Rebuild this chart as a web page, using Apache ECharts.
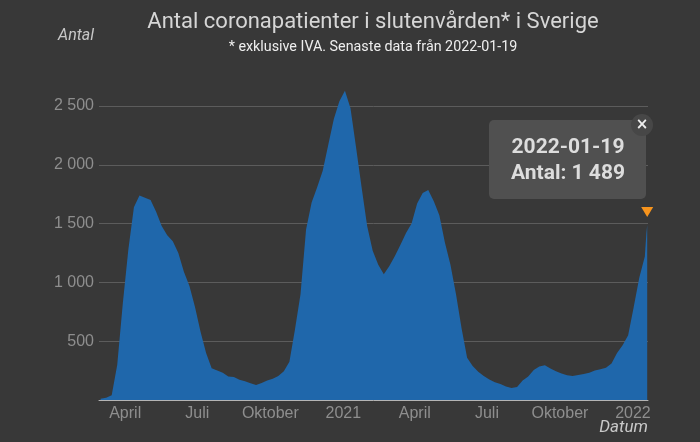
<!DOCTYPE html>
<html>
<head>
<meta charset="utf-8">
<title>Antal coronapatienter i slutenvården</title>
<script src="https://cdn.jsdelivr.net/npm/echarts@6/dist/echarts.min.js"></script>
<style>
  html, body { margin: 0; padding: 0; background: #383838; }
  #chart { width: 700px; height: 442px; }
</style>
</head>
<body>
<div id="chart"></div>
<script>
// weekly readings (every Sunday) starting 2020-03-01
const firstWeek = '2020-03-01';
const weeklyValues = [
  10, 20, 40, 300, 820, 1280, 1640, 1740, 1720, 1700,
  1600, 1480, 1400, 1350, 1250, 1090, 970, 790, 580, 400,
  270, 250, 232, 200, 195, 172, 160, 142, 128, 145,
  165, 180, 205, 245, 325, 600, 900, 1450, 1680, 1810,
  1950, 2170, 2390, 2540, 2630, 2480, 2150, 1810, 1480, 1270,
  1150, 1070, 1140, 1225, 1320, 1420, 1500, 1670, 1760, 1785,
  1690, 1570, 1340, 1150, 900, 610, 360, 290, 240, 205,
  175, 150, 135, 115, 102, 110, 165, 200, 255, 285,
  295, 268, 245, 225, 210, 205, 213, 222, 232, 250,
  262, 275, 310, 400, 465, 550, 790, 1040, 1220
];
// last days
const lastDates = ['2022-01-18', '2022-01-19'];
const lastValues = [1420, 1489];

const xTickDates = ['2020-04-01', '2020-07-01', '2020-10-01', '2021-01-01',
  '2021-04-01', '2021-07-01', '2021-10-01', '2022-01-01'];
const xTickLabels = ['April', 'Juli', 'Oktober', '2021', 'April', 'Juli', 'Oktober', '2022'];
const yTicks = [0, 500, 1000, 1500, 2000, 2500];

const pad = (n) => String(n).padStart(2, '0');
const toTime = (s) => new Date(s + 'T00:00:00').getTime();
const addDays = (s, n) => {
  const d = new Date(s + 'T00:00:00');
  d.setDate(d.getDate() + n);
  return d.getFullYear() + '-' + pad(d.getMonth() + 1) + '-' + pad(d.getDate());
};
const fmtNum = (v) => String(v).replace(/\B(?=(\d{3})+(?!\d))/g, ' ');

const dayList = weeklyValues.map((v, i) => addDays(firstWeek, 7 * i)).concat(lastDates);
const valueList = weeklyValues.concat(lastValues);
const seriesData = dayList.map((d, i) => [toTime(d), valueList[i]]);

const lastDay = dayList[dayList.length - 1];
const lastPoint = seriesData[seriesData.length - 1];
const tickTimes = xTickDates.map(toTime);

const chart = echarts.init(document.getElementById('chart'));

chart.setOption({
  backgroundColor: '#383838',
  animation: false,
  title: {
    text: 'Antal coronapatienter i slutenvården* i Sverige',
    subtext: '* exklusive IVA. Senaste data från 2022-01-19',
    left: 373,
    top: 11,
    padding: 0,
    itemGap: 7,
    textAlign: 'center',
    textStyle: {
      color: '#d6d6d6',
      fontFamily: 'Roboto',
      fontSize: 22,
      fontWeight: 'normal'
    },
    subtextStyle: {
      color: '#eeeeee',
      fontFamily: 'Roboto',
      fontSize: 14.3
    }
  },
  grid: {
    left: 99,
    right: 52,
    top: 106,
    bottom: 42
  },
  xAxis: {
    type: 'value',
    min: toTime('2020-02-28'),
    max: toTime('2022-01-20'),
    axisLine: { lineStyle: { color: '#b4b4b4', width: 1 } },
    axisTick: { show: false },
    splitLine: { show: false },
    axisLabel: {
      customValues: tickTimes,
      color: '#8e8e8e',
      fontFamily: 'Liberation Sans',
      fontSize: 16,
      margin: 6,
      hideOverlap: false,
      formatter: (value) => {
        const i = tickTimes.indexOf(value);
        return i >= 0 ? xTickLabels[i] : '';
      }
    }
  },
  yAxis: {
    type: 'value',
    min: yTicks[0],
    max: yTicks[yTicks.length - 1],
    interval: 500,
    axisLine: { show: false },
    axisTick: { show: false },
    axisLabel: {
      color: '#8e8e8e',
      fontFamily: 'Liberation Sans',
      fontSize: 16,
      margin: 5,
      formatter: (v) => (v === 0 ? '' : fmtNum(v))
    },
    splitLine: { lineStyle: { color: '#5c5c5c', width: 1 } }
  },
  series: [
    {
      type: 'line',
      data: seriesData,
      clip: false,
      showSymbol: false,
      lineStyle: { width: 0 },
      areaStyle: { color: '#1f67ab', opacity: 1 },
      markPoint: {
        symbol: 'triangle',
        symbolRotate: 180,
        symbolSize: [12, 10],
        symbolOffset: [0, -13],
        itemStyle: { color: '#f7941d' },
        label: { show: false },
        data: [{ coord: lastPoint }]
      }
    }
  ],
  graphic: [
    {
      type: 'text',
      left: 58,
      top: 28,
      style: {
        text: 'Antal',
        fill: '#c8c8c8',
        fontFamily: 'Roboto',
        fontStyle: 'italic',
        fontSize: 16
      }
    },
    {
      type: 'text',
      right: 52,
      top: 419,
      style: {
        text: 'Datum',
        fill: '#c8c8c8',
        fontFamily: 'Roboto',
        fontStyle: 'italic',
        fontSize: 17
      }
    },
    {
      type: 'group',
      left: 489,
      top: 120,
      z: 100,
      children: [
        {
          type: 'rect',
          z: 100,
          shape: { x: 0, y: 0, width: 157, height: 79, r: 5 },
          style: { fill: '#505050' }
        },
        {
          type: 'text',
          z: 101,
          x: 79,
          y: 28,
          style: {
            text: lastDay,
            fill: '#dddddd',
            fontFamily: 'Roboto',
            fontWeight: 'bold',
            fontSize: 21,
            align: 'center',
            verticalAlign: 'middle'
          }
        },
        {
          type: 'text',
          z: 101,
          x: 79,
          y: 54,
          style: {
            text: 'Antal: ' + fmtNum(lastPoint[1]),
            fill: '#dddddd',
            fontFamily: 'Roboto',
            fontWeight: 'bold',
            fontSize: 21,
            align: 'center',
            verticalAlign: 'middle'
          }
        }
      ]
    },
    {
      type: 'circle',
      z: 102,
      shape: { cx: 642, cy: 125, r: 11 },
      style: { fill: '#474747' }
    },
    {
      type: 'text',
      z: 103,
      x: 642,
      y: 125,
      style: {
        text: '×',
        fill: '#eeeeee',
        fontFamily: 'DejaVu Sans',
        fontWeight: 'bold',
        fontSize: 15,
        align: 'center',
        verticalAlign: 'middle'
      }
    }
  ]
});
</script>
</body>
</html>
